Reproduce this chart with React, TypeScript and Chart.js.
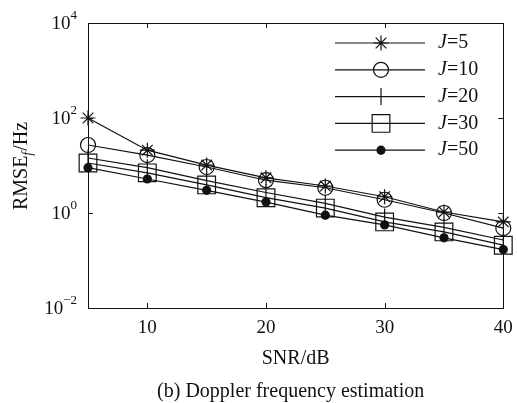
import React, { useEffect, useRef } from 'react';
import { Chart, registerables } from 'chart.js';
import { drawPoint } from 'chart.js/helpers';

Chart.register(...registerables);

// SNR sweep (dB)
const snr = [5, 10, 15, 20, 25, 30, 35, 40];

// Doppler frequency RMSE (Hz) for each number of snapshots J
const rmseJ5 = [100, 21, 10.2, 5.5, 3.7, 2.2, 1.05, 0.65];
const rmseJ10 = [27, 16.6, 9.3, 4.9, 3.4, 1.9, 1.0, 0.48];
const rmseJ20 = [14.4, 9.0, 4.8, 2.7, 1.6, 0.82, 0.5, 0.27];
const rmseJ30 = [11.3, 7.0, 3.9, 2.1, 1.27, 0.65, 0.4, 0.21];
const rmseJ50 = [9.0, 5.2, 3.0, 1.7, 0.9, 0.56, 0.3, 0.17];

const jValues = ['5', '10', '20', '30', '50'];
const xTickValues = [10, 20, 30, 40];
const yTickExponents = [-2, 0, 2, 4];

const SERIF = '"Liberation Serif", "Times New Roman", Times, serif';
const INK = '#111';

type Marker = { style: any; radius: number; filled: boolean };
const markers: Marker[] = [
  { style: 'star', radius: 7.5, filled: false },
  { style: 'circle', radius: 7.5, filled: false },
  { style: 'line', radius: 8.5, filled: false },
  { style: 'rect', radius: 12.5, filled: false },
  { style: 'circle', radius: 4, filled: true },
];
const markerRotation = [0, 0, 90, 0, 0];

const seriesValues = [rmseJ5, rmseJ10, rmseJ20, rmseJ30, rmseJ50];

const decorPlugin = {
  id: 'decor',
  beforeDatasetsDraw(chart: any) {
    const { ctx, chartArea: a } = chart;
    ctx.save();
    ctx.strokeStyle = INK;
    ctx.lineWidth = 1;
    ctx.strokeRect(Math.round(a.left) + 0.5, Math.round(a.top) + 0.5, Math.round(a.right - a.left), Math.round(a.bottom - a.top));
    ctx.restore();
  },
  afterDatasetsDraw(chart: any) {
    const { ctx, chartArea: a, scales } = chart;
    const xs = scales.x;
    const ys = scales.y;
    const tick = 5;
    ctx.save();
    ctx.strokeStyle = INK;
    ctx.fillStyle = INK;
    ctx.lineWidth = 1;

    // inward ticks on all four sides
    ctx.beginPath();
    xTickValues.forEach((v) => {
      const px = Math.round(xs.getPixelForValue(v)) + 0.5;
      ctx.moveTo(px, a.bottom);
      ctx.lineTo(px, a.bottom - tick);
      ctx.moveTo(px, a.top);
      ctx.lineTo(px, a.top + tick);
    });
    yTickExponents.forEach((e) => {
      const py = Math.round(ys.getPixelForValue(Math.pow(10, e))) + 0.5;
      ctx.moveTo(a.left, py);
      ctx.lineTo(a.left + tick, py);
      ctx.moveTo(a.right, py);
      ctx.lineTo(a.right - tick, py);
    });
    ctx.stroke();

    // x tick labels
    ctx.font = `19px ${SERIF}`;
    ctx.textAlign = 'center';
    ctx.textBaseline = 'middle';
    xTickValues.forEach((v) => {
      ctx.fillText(String(v), xs.getPixelForValue(v), a.bottom + 20);
    });

    // y tick labels as powers of ten
    yTickExponents.forEach((e) => {
      const py = ys.getPixelForValue(Math.pow(10, e));
      const expText = e < 0 ? '\u2212' + Math.abs(e) : String(e);
      ctx.font = `13px ${SERIF}`;
      const expW = ctx.measureText(expText).width;
      const right = a.left - 11;
      ctx.textAlign = 'left';
      ctx.fillText(expText, right - expW, py - 7);
      ctx.font = `19px ${SERIF}`;
      ctx.textAlign = 'right';
      ctx.fillText('10', right - expW, py + 1);
    });

    // axis titles and caption
    ctx.font = `20px ${SERIF}`;
    ctx.textAlign = 'center';
    ctx.fillText('SNR/dB', (a.left + a.right) / 2, a.bottom + 51);
    ctx.fillText('(b) Doppler frequency estimation', (a.left + a.right) / 2 - 5, a.bottom + 84);

    // rotated y title: RMSE_f/Hz
    ctx.save();
    ctx.translate(22, 166);
    ctx.rotate(-Math.PI / 2);
    ctx.textAlign = 'left';
    ctx.font = `20px ${SERIF}`;
    const w1 = ctx.measureText('RMSE').width;
    const w3 = ctx.measureText('/Hz').width;
    ctx.font = `italic 14px ${SERIF}`;
    const w2 = ctx.measureText('f').width + 1;
    let x0 = -(w1 + w2 + w3) / 2;
    ctx.font = `20px ${SERIF}`;
    ctx.fillText('RMSE', x0, 0);
    ctx.font = `italic 14px ${SERIF}`;
    ctx.fillText('f', x0 + w1, 6);
    ctx.font = `20px ${SERIF}`;
    ctx.fillText('/Hz', x0 + w1 + w2, 0);
    ctx.restore();

    // legend
    const lx0 = 335;
    const lx1 = 425;
    const mx = 381;
    const tx = 438;
    jValues.forEach((j, i) => {
      const y = 43 + i * 26.8;
      ctx.strokeStyle = INK;
      ctx.lineWidth = 1.2;
      ctx.beginPath();
      ctx.moveTo(lx0, y);
      ctx.lineTo(lx1, y);
      ctx.stroke();
      const m = markers[i];
      ctx.fillStyle = m.filled ? INK : 'rgba(0,0,0,0)';
      drawPoint(ctx, { pointStyle: m.style, rotation: markerRotation[i], radius: m.radius, borderWidth: 1.2 } as any, mx, y);
      ctx.fillStyle = INK;
      ctx.textAlign = 'left';
      ctx.font = `italic 20px ${SERIF}`;
      ctx.fillText('J', tx, y);
      const jw = ctx.measureText('J').width;
      ctx.font = `20px ${SERIF}`;
      ctx.fillText('=' + j, tx + jw, y);
    });

    ctx.restore();
  },
};

export default function App() {
  const canvasRef = useRef<HTMLCanvasElement | null>(null);

  useEffect(() => {
    document.body.style.margin = '0';
    const canvas = canvasRef.current;
    if (!canvas) return;

    const datasets = seriesValues.map((vals, i) => ({
      label: 'J=' + jValues[i],
      data: snr.map((x, k) => ({ x, y: vals[k] })),
      borderColor: INK,
      borderWidth: 1.2,
      pointStyle: markers[i].style,
      pointRadius: markers[i].radius,
      pointRotation: markerRotation[i],
      pointBorderColor: INK,
      pointBorderWidth: 1.2,
      pointBackgroundColor: markers[i].filled ? INK : 'rgba(0,0,0,0)',
      fill: false,
      tension: 0,
      clip: false as any,
    }));

    const chart = new Chart(canvas, {
      type: 'line',
      data: { datasets },
      options: {
        animation: false,
        responsive: false,
        devicePixelRatio: 1,
        layout: { padding: { left: 88, right: 11, top: 23, bottom: 95 } },
        plugins: { legend: { display: false }, tooltip: { enabled: false } },
        scales: {
          x: { type: 'linear', min: 5, max: 40, display: false },
          y: { type: 'logarithmic', min: 0.01, max: 10000, display: false },
        },
      },
      plugins: [decorPlugin],
    });

    return () => chart.destroy();
  }, []);

  return (
    <div style={{ width: 517, height: 403, background: '#fff' }}>
      <canvas ref={canvasRef} width={517} height={403} />
    </div>
  );
}
